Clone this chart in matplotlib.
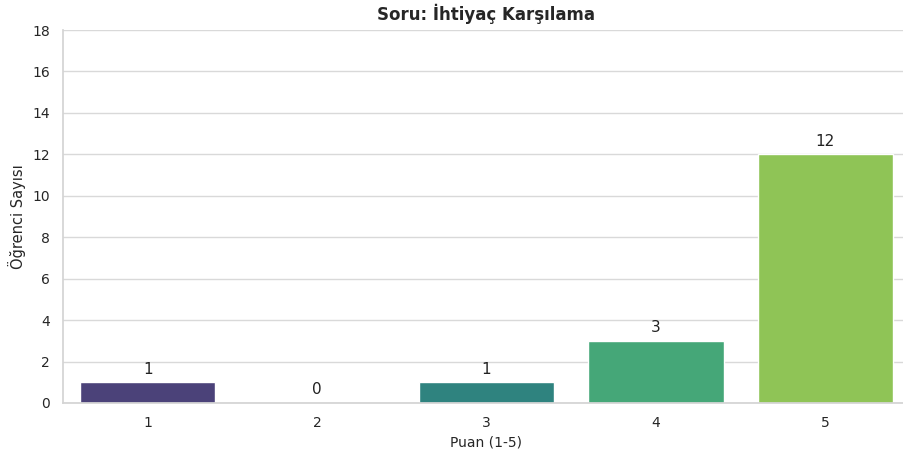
import matplotlib
matplotlib.use("Agg")
import matplotlib.pyplot as plt
import seaborn as sns
import pandas as pd

# Puan dağılımı
puanlar = ["1", "2", "3", "4", "5"]
ogrenci_sayisi = [1, 0, 1, 3, 12]
baslik = "Soru: İhtiyaç Karşılama"

sns.set_theme(style="whitegrid", rc={"grid.color": "#d9d9d9", "axes.edgecolor": "#d4d4d4"})
plt.rcParams["font.family"] = ["DejaVu Sans"]

df = pd.DataFrame({"Puan": puanlar, "Sayi": ogrenci_sayisi})

fig = plt.figure(figsize=(9.04, 4.57), dpi=100)
ax = fig.add_axes([63 / 904, 1 - 403 / 457, 847 / 904, 373 / 457])

sns.barplot(data=df, x="Puan", y="Sayi", hue="Puan", palette="viridis",
            legend=False, ax=ax)

# Değerleri çubukların üstüne yaz
for i, v in enumerate(ogrenci_sayisi):
    ax.annotate(str(v), (i, v), xytext=(0, 4), textcoords="offset points",
                ha="center", va="bottom", fontsize=11, color="#222222")

ax.set_ylim(0, max(ogrenci_sayisi) * 1.5)
ax.set_xlim(-0.5, 4.5)
ax.set_title(baslik, fontsize=12, fontweight="bold", pad=7)
ax.set_xlabel("Puan (1-5)", fontsize=10)
ax.set_ylabel("Öğrenci Sayısı", fontsize=10.5)
ax.tick_params(labelsize=10)
ax.spines["top"].set_visible(False)
ax.spines["right"].set_visible(False)

fig.savefig("out.png", dpi=100)
